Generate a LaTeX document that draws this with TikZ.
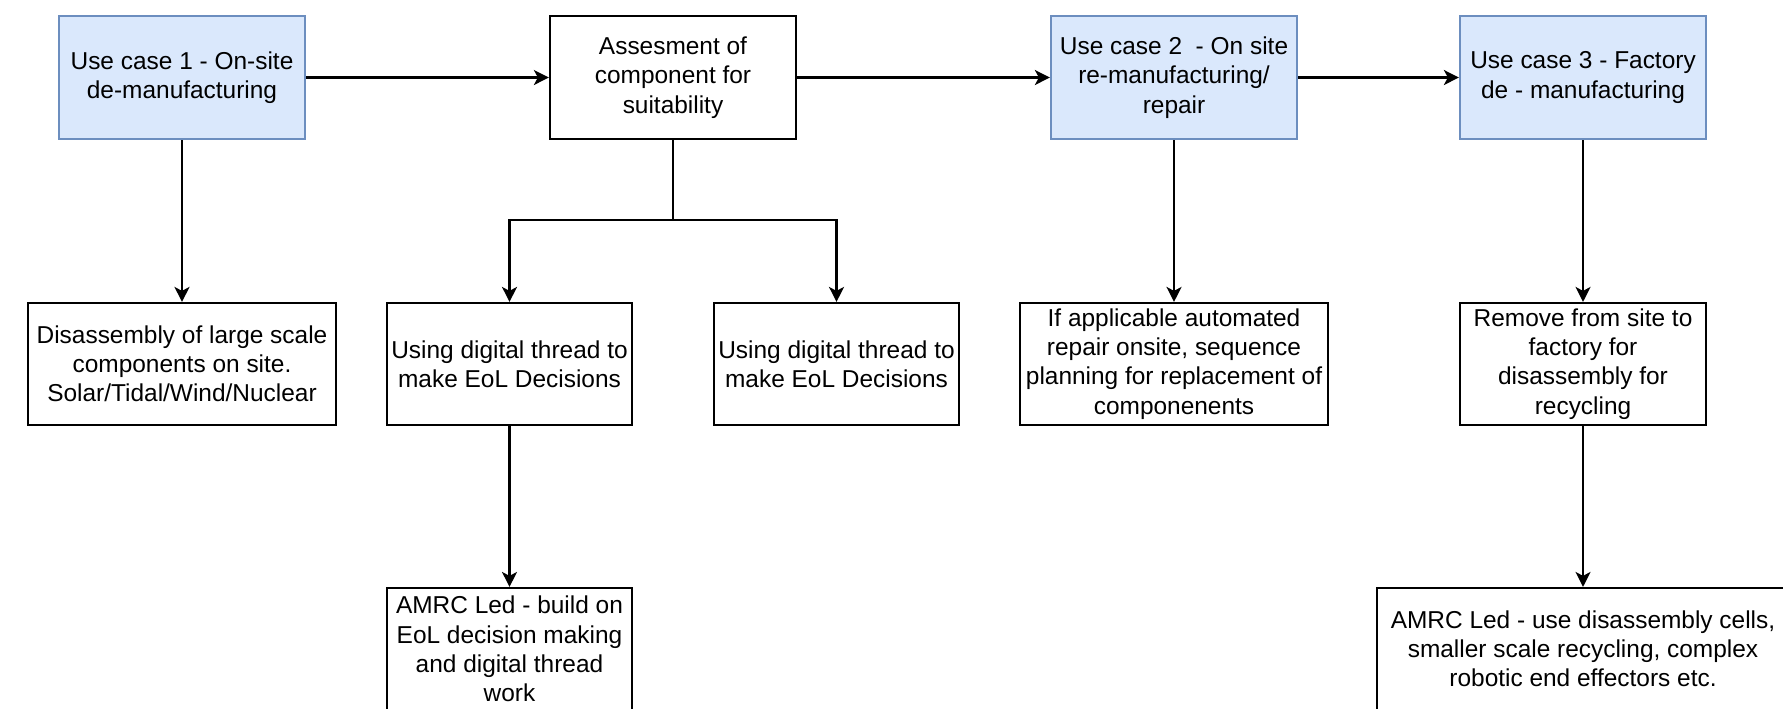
\documentclass[tikz,border=0pt]{standalone}
\usepackage{fontspec}
\setmainfont{Liberation Sans}
\usepackage{xcolor}
\usetikzlibrary{arrows.meta}
\definecolor{ucfill}{HTML}{DAE8FC}
\definecolor{ucline}{HTML}{6C8EBF}
\tikzstyle{usecase}=[draw=ucline, fill=ucfill, line width=0.6pt, minimum width=2.46cm, minimum height=1.23cm, align=center, inner sep=0pt]
\tikzstyle{stepbox}=[draw=black, line width=0.6pt, minimum height=1.22cm, align=center, inner sep=0pt]
\tikzstyle{flow}=[line width=0.6pt, -{Stealth[length=0.15cm, width=0.15cm, inset=0.04cm]}]

\begin{document}
\begin{tikzpicture}[x=0.01cm, y=-0.01cm, font=\fontsize{6.95}{8.3}\selectfont]
	\clip (0,0) rectangle (1783,708);
	\node[usecase] (uc1) at (182,77.5) {Use case 1 - On-site\\de-manufacturing};
	\node[stepbox, minimum width=2.46cm, minimum height=1.23cm] (assess) at (673,77.5) {Assesment of\\component for\\suitability};
	\node[usecase] (uc2) at (1174,77.5) {Use case 2~ - On site\\re-manufacturing/\\repair};
	\node[usecase] (uc3) at (1583,77.5) {Use case 3 - Factory\\de - manufacturing};
	\node[stepbox, minimum width=3.07cm] (dis) at (182,364) {Disassembly of large scale\\components on site.\\Solar/Tidal/Wind/Nuclear};
	\node[stepbox, minimum width=2.45cm] (using1) at (509.5,364) {Using digital thread to\\make EoL Decisions};
	\node[stepbox, minimum width=2.45cm] (using2) at (836.5,364) {Using digital thread to\\make EoL Decisions};
	\node[stepbox, minimum width=3.07cm] (repair) at (1174,364) {If applicable automated\\repair onsite, sequence\\planning for replacement of\\componenents};
	\node[stepbox, minimum width=2.46cm] (remove) at (1583,364) {Remove from site to\\factory for\\disassembly for\\recycling};
	\node[stepbox, minimum width=2.45cm] (amrca) at (509.5,649) {AMRC Led - build on\\EoL decision making\\and digital thread\\work};
	\node[stepbox, minimum width=4.11cm] (amrcb) at (1583,649) {AMRC Led - use disassembly cells,\\smaller scale recycling, complex\\robotic end effectors etc.};
	\coordinate (split) at (673,220);
	\draw[flow] (uc1) -- (assess);
	\draw[flow] (assess) -- (uc2);
	\draw[flow] (uc2) -- (uc3);
	\draw[flow] (uc1) -- (dis);
	\draw[line width=0.6pt] (assess) -- (split);
	\draw[flow] (split) -| (using1);
	\draw[flow] (split) -| (using2);
	\draw[flow] (uc2) -- (repair);
	\draw[flow] (uc3) -- (remove);
	\draw[flow] (using1) -- (amrca);
	\draw[flow] (remove) -- (amrcb);
\end{tikzpicture}
\end{document}
